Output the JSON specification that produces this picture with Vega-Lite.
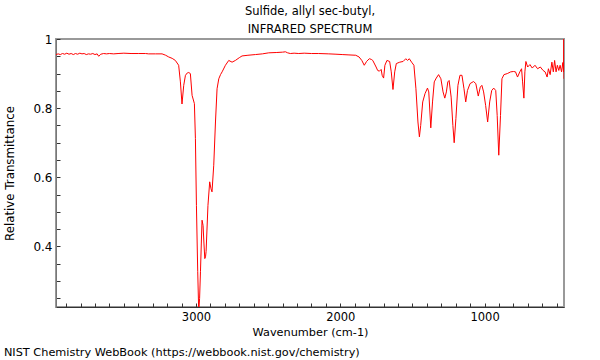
{
  "$schema": "https://vega.github.io/schema/vega-lite/v6.json",
  "padding": {"left": 3, "top": 5, "right": 5, "bottom": 2},
  "background": "white",
  "title": {"text": "NIST Chemistry WebBook (https://webbook.nist.gov/chemistry)", "orient": "bottom", "anchor": "start", "frame": "bounds", "fontSize": 11.3, "fontWeight": "normal", "font": "DejaVu Sans", "color": "black", "offset": 8},
  "config": {
    "font": "DejaVu Sans",
    "view": {"stroke": "#999", "strokeWidth": 2},
    "axis": {"labelFont": "DejaVu Sans", "titleFont": "DejaVu Sans", "labelColor": "black", "titleColor": "black", "titleFontWeight": "normal", "grid": false}
  },
  "vconcat": [
    {
      "width": 508,
      "height": 268,
      "title": {"text": ["Sulfide, allyl sec-butyl,", "INFRARED SPECTRUM"], "fontSize": 11.5, "fontWeight": "normal", "font": "DejaVu Sans", "color": "black", "lineHeight": 17.5, "anchor": "middle", "offset": -2},
      "data": {"values": [
        {"w":3970,"t":0.955},{"w":3955,"t":0.957},{"w":3940,"t":0.955},{"w":3925,"t":0.958},{"w":3910,"t":0.956},{"w":3895,"t":0.959},{"w":3880,"t":0.956},{"w":3865,"t":0.958},{"w":3850,"t":0.955},{"w":3835,"t":0.958},{"w":3820,"t":0.956},{"w":3805,"t":0.959},{"w":3790,"t":0.957},{"w":3775,"t":0.958},{"w":3760,"t":0.955},{"w":3745,"t":0.957},{"w":3730,"t":0.956},{"w":3715,"t":0.958},{"w":3700,"t":0.955},{"w":3685,"t":0.957},{"w":3674,"t":0.950},{"w":3660,"t":0.956},{"w":3640,"t":0.958},{"w":3620,"t":0.957},{"w":3600,"t":0.958},{"w":3570,"t":0.957},{"w":3540,"t":0.958},{"w":3500,"t":0.959},{"w":3450,"t":0.958},{"w":3400,"t":0.958},{"w":3350,"t":0.958},{"w":3328,"t":0.957},{"w":3280,"t":0.957},{"w":3235,"t":0.957},{"w":3210,"t":0.953},{"w":3189,"t":0.948},{"w":3165,"t":0.944},{"w":3143,"t":0.938},{"w":3120,"t":0.924},{"w":3108,"t":0.876},{"w":3097,"t":0.812},{"w":3085,"t":0.866},{"w":3073,"t":0.895},{"w":3060,"t":0.902},{"w":3050,"t":0.903},{"w":3039,"t":0.9},{"w":3027,"t":0.837},{"w":3011,"t":0.813},{"w":3004,"t":0.712},{"w":2997,"t":0.519},{"w":2988,"t":0.327},{"w":2981,"t":0.21},{"w":2975,"t":0.25},{"w":2969,"t":0.327},{"w":2963,"t":0.41},{"w":2958,"t":0.476},{"w":2951,"t":0.461},{"w":2945,"t":0.41},{"w":2939,"t":0.365},{"w":2934,"t":0.37},{"w":2930,"t":0.385},{"w":2917,"t":0.519},{"w":2905,"t":0.587},{"w":2896,"t":0.567},{"w":2889,"t":0.558},{"w":2877,"t":0.635},{"w":2865,"t":0.76},{"w":2854,"t":0.856},{"w":2842,"t":0.885},{"w":2830,"t":0.897},{"w":2819,"t":0.905},{"w":2796,"t":0.924},{"w":2773,"t":0.938},{"w":2750,"t":0.933},{"w":2727,"t":0.938},{"w":2700,"t":0.946},{"w":2681,"t":0.951},{"w":2640,"t":0.953},{"w":2588,"t":0.955},{"w":2540,"t":0.957},{"w":2496,"t":0.96},{"w":2440,"t":0.961},{"w":2400,"t":0.962},{"w":2380,"t":0.963},{"w":2365,"t":0.96},{"w":2346,"t":0.958},{"w":2320,"t":0.959},{"w":2288,"t":0.958},{"w":2250,"t":0.959},{"w":2200,"t":0.958},{"w":2150,"t":0.958},{"w":2080,"t":0.957},{"w":2030,"t":0.956},{"w":1987,"t":0.955},{"w":1940,"t":0.954},{"w":1893,"t":0.953},{"w":1870,"t":0.948},{"w":1851,"t":0.938},{"w":1834,"t":0.924},{"w":1818,"t":0.935},{"w":1799,"t":0.943},{"w":1785,"t":0.941},{"w":1775,"t":0.938},{"w":1752,"t":0.919},{"w":1741,"t":0.909},{"w":1729,"t":0.907},{"w":1717,"t":0.912},{"w":1710,"t":0.895},{"w":1700,"t":0.887},{"w":1691,"t":0.924},{"w":1677,"t":0.938},{"w":1658,"t":0.935},{"w":1647,"t":0.905},{"w":1635,"t":0.854},{"w":1623,"t":0.905},{"w":1612,"t":0.929},{"w":1588,"t":0.933},{"w":1565,"t":0.935},{"w":1546,"t":0.943},{"w":1534,"t":0.938},{"w":1522,"t":0.943},{"w":1506,"t":0.933},{"w":1490,"t":0.924},{"w":1476,"t":0.856},{"w":1462,"t":0.76},{"w":1452,"t":0.717},{"w":1443,"t":0.75},{"w":1429,"t":0.818},{"w":1413,"t":0.842},{"w":1396,"t":0.858},{"w":1387,"t":0.847},{"w":1373,"t":0.743},{"w":1361,"t":0.818},{"w":1349,"t":0.876},{"w":1335,"t":0.887},{"w":1319,"t":0.897},{"w":1303,"t":0.885},{"w":1288,"t":0.847},{"w":1276,"t":0.829},{"w":1265,"t":0.847},{"w":1255,"t":0.876},{"w":1246,"t":0.88},{"w":1232,"t":0.832},{"w":1220,"t":0.75},{"w":1211,"t":0.7},{"w":1199,"t":0.77},{"w":1185,"t":0.866},{"w":1171,"t":0.895},{"w":1157,"t":0.895},{"w":1143,"t":0.856},{"w":1131,"t":0.818},{"w":1119,"t":0.851},{"w":1101,"t":0.871},{"w":1077,"t":0.877},{"w":1061,"t":0.871},{"w":1044,"t":0.835},{"w":1030,"t":0.861},{"w":1019,"t":0.866},{"w":1007,"t":0.847},{"w":993,"t":0.808},{"w":979,"t":0.76},{"w":965,"t":0.818},{"w":951,"t":0.851},{"w":937,"t":0.858},{"w":923,"t":0.851},{"w":913,"t":0.779},{"w":902,"t":0.664},{"w":890,"t":0.779},{"w":880,"t":0.885},{"w":866,"t":0.897},{"w":843,"t":0.9},{"w":819,"t":0.905},{"w":800,"t":0.906},{"w":786,"t":0.905},{"w":772,"t":0.89},{"w":756,"t":0.905},{"w":744,"t":0.914},{"w":737,"t":0.876},{"w":728,"t":0.829},{"w":721,"t":0.905},{"w":714,"t":0.935},{"w":702,"t":0.919},{"w":686,"t":0.926},{"w":670,"t":0.916},{"w":651,"t":0.924},{"w":633,"t":0.914},{"w":614,"t":0.919},{"w":595,"t":0.909},{"w":581,"t":0.905},{"w":567,"t":0.89},{"w":558,"t":0.914},{"w":546,"t":0.897},{"w":534,"t":0.933},{"w":524,"t":0.905},{"w":515,"t":0.938},{"w":505,"t":0.905},{"w":496,"t":0.924},{"w":486,"t":0.909},{"w":477,"t":0.924},{"w":467,"t":0.905},{"w":458,"t":0.932},{"w":453,"t":0.905},{"w":451,"t":1.0},{"w":450,"t":0.885}
      ]},
      "mark": {"type": "line", "color": "#ff0000", "strokeWidth": 1, "clip": true},
      "encoding": {
        "x": {"field": "w", "type": "quantitative", "title": "Wavenumber (cm-1)",
          "scale": {"domain": [450, 3970], "reverse": true, "nice": false, "zero": false},
          "axis": {"values": [500,600,700,800,900,1000,1100,1200,1300,1400,1500,1600,1700,1800,1900,2000,2100,2200,2300,2400,2500,2600,2700,2800,2900,3000,3100,3200,3300,3400,3500,3600,3700,3800,3900],
            "format": "d", "labelExpr": "datum.value % 1000 == 0 ? datum.label : ''",
            "tickSize": -4, "tickColor": "#333", "domainColor": "#333", "labelPadding": 8, "labelFontSize": 11.5, "titleFontSize": 11.3, "titlePadding": 4, "labelFlush": false}},
        "y": {"field": "t", "type": "quantitative", "title": "Relative Transmittance",
          "scale": {"domain": [0.225, 1], "nice": false, "zero": false},
          "axis": {"values": [0.25,0.3,0.35,0.4,0.45,0.5,0.55,0.6,0.65,0.7,0.75,0.8,0.85,0.9,0.95,1],
            "labelExpr": "abs(datum.value*5 - round(datum.value*5)) < 0.001 ? (datum.value == 1 ? '1' : format(datum.value, '.1f')) : ''",
            "tickSize": -4, "tickColor": "#333", "domainColor": "#777", "labelPadding": 8, "labelFontSize": 12, "titleFontSize": 11.8, "titlePadding": 17, "labelFlush": false}}
      }
    }
  ]
}
